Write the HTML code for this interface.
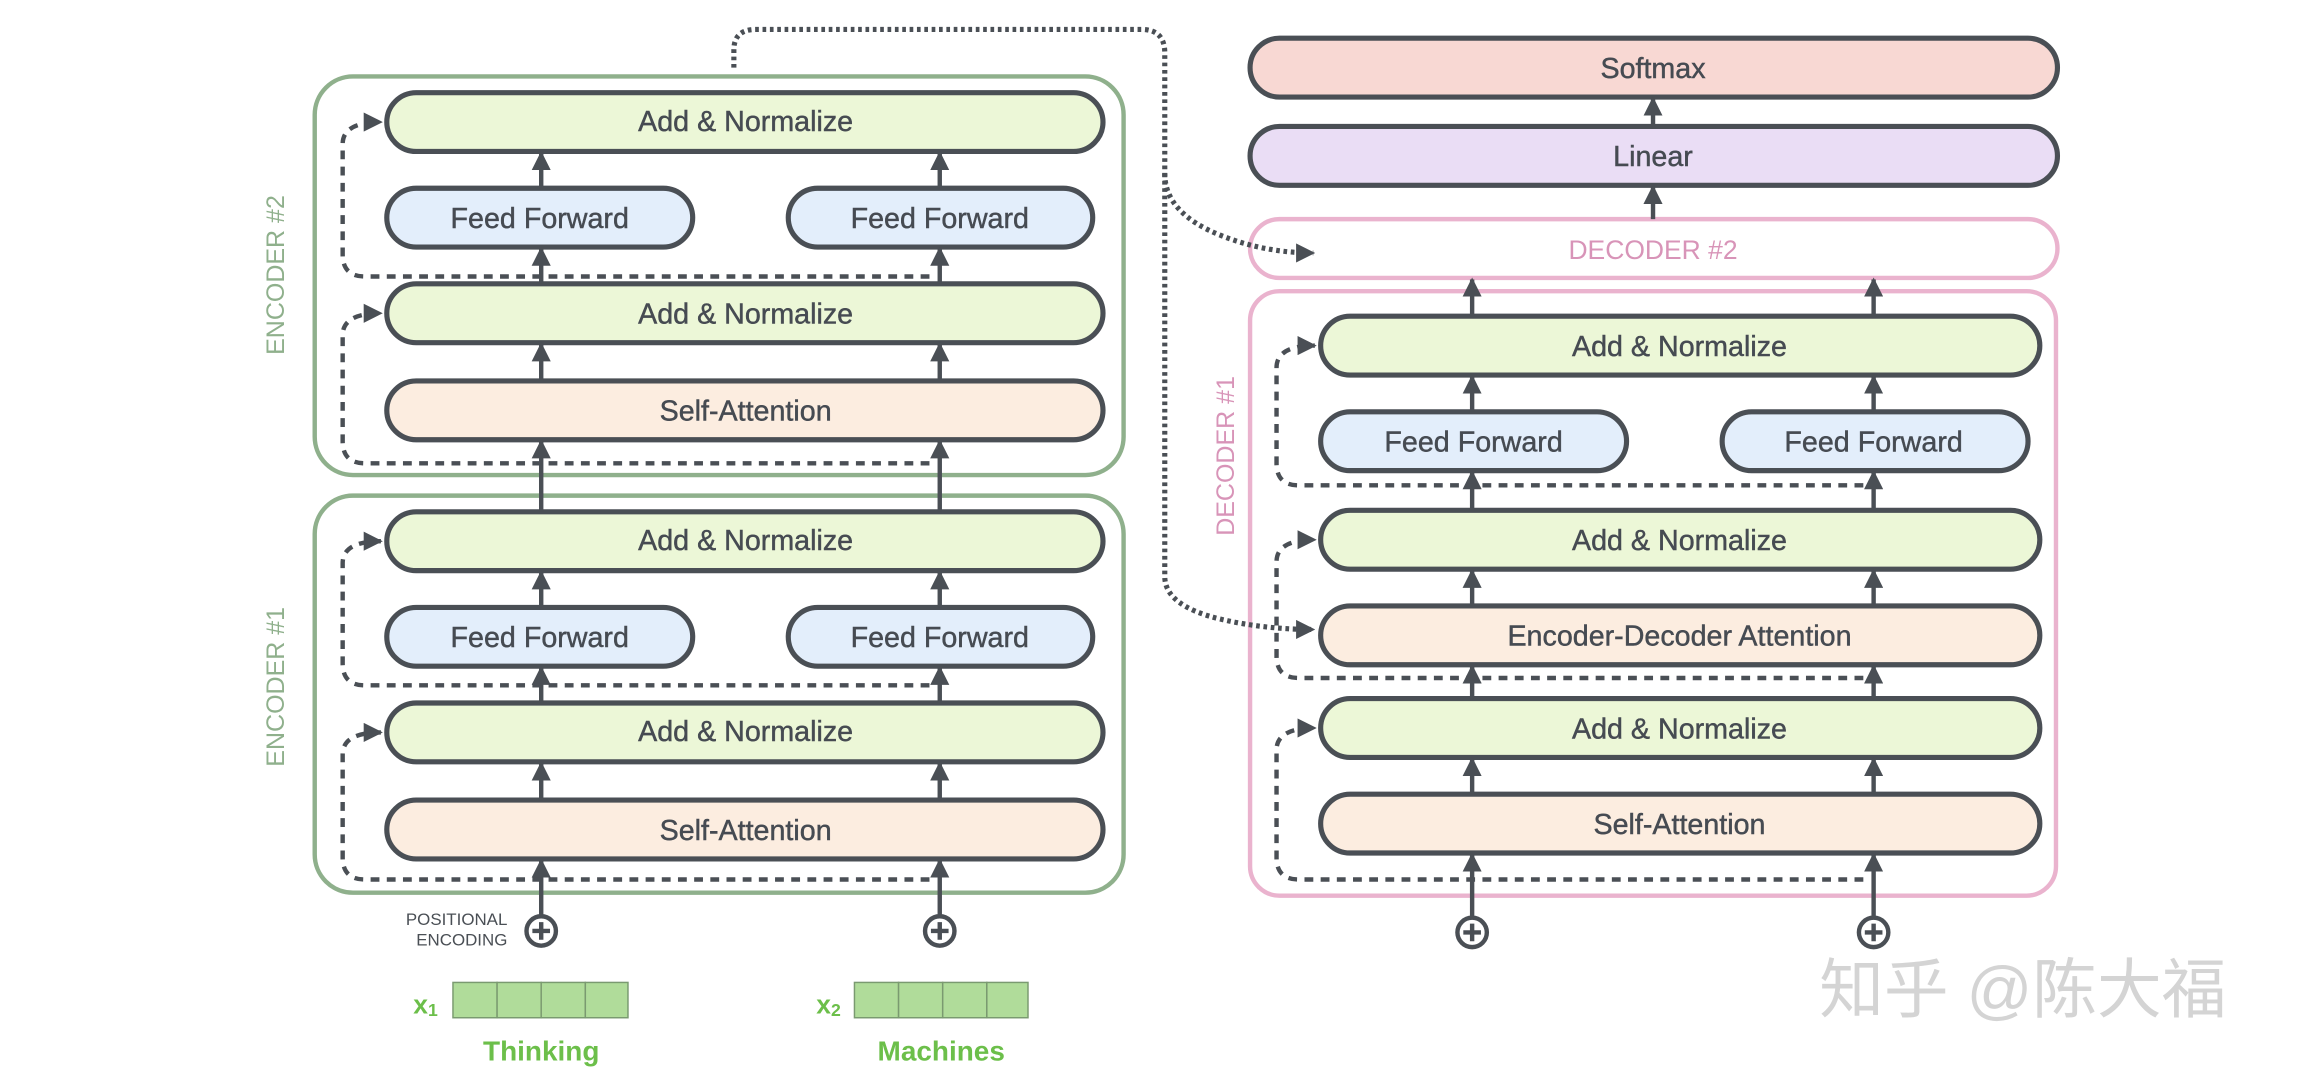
<!DOCTYPE html>
<html><head><meta charset="utf-8"><style>
html,body{margin:0;padding:0;background:#fff;width:2306px;height:1082px;overflow:hidden}
svg{display:block}
text{font-family:"Liberation Sans","Noto Sans CJK SC",sans-serif}
</style></head><body>
<svg width="2306" height="1082" viewBox="0 0 1568 735.7" preserveAspectRatio="none" xmlns="http://www.w3.org/2000/svg">
<defs>
<marker id="a" viewBox="0 0 10 10" refX="9" refY="5" markerWidth="13" markerHeight="13" markerUnits="userSpaceOnUse" orient="auto"><path d="M0,0L10,5L0,10z" fill="#4a4f55"/></marker>
</defs>
<rect width="1568" height="736" fill="#fff"/>
<g fill="none" stroke-width="3">
<rect x="214" y="52" width="550" height="271" rx="26" stroke="#8fb08c"/>
<rect x="214" y="337" width="550" height="270" rx="26" stroke="#8fb08c"/>
<rect x="850" y="149" width="549" height="40" rx="20" stroke="#eab3ce"/>
<rect x="850" y="198" width="548" height="411" rx="20" stroke="#eab3ce"/>
</g>
<g stroke="#4a4f55" stroke-width="3.5">
<rect x="263" y="63" width="487" height="40" rx="20" fill="#ecf7d7"/>
<rect x="263" y="128" width="208" height="40" rx="20" fill="#e3eefb"/>
<rect x="536" y="128" width="207" height="40" rx="20" fill="#e3eefb"/>
<rect x="263" y="193" width="487" height="40" rx="20" fill="#ecf7d7"/>
<rect x="263" y="259" width="487" height="40" rx="20" fill="#fcede0"/>
<rect x="263" y="348" width="487" height="40" rx="20" fill="#ecf7d7"/>
<rect x="263" y="413" width="208" height="40" rx="20" fill="#e3eefb"/>
<rect x="536" y="413" width="207" height="40" rx="20" fill="#e3eefb"/>
<rect x="263" y="478" width="487" height="40" rx="20" fill="#ecf7d7"/>
<rect x="263" y="544" width="487" height="40" rx="20" fill="#fcede0"/>
<rect x="850" y="26" width="549" height="40" rx="20" fill="#f8d8d3"/>
<rect x="850" y="86" width="549" height="40" rx="20" fill="#eaddf5"/>
<rect x="898" y="215" width="489" height="40" rx="20" fill="#ecf7d7"/>
<rect x="898" y="280" width="208" height="40" rx="20" fill="#e3eefb"/>
<rect x="1171" y="280" width="208" height="40" rx="20" fill="#e3eefb"/>
<rect x="898" y="347" width="489" height="40" rx="20" fill="#ecf7d7"/>
<rect x="898" y="412" width="489" height="40" rx="20" fill="#fcede0"/>
<rect x="898" y="475" width="489" height="40" rx="20" fill="#ecf7d7"/>
<rect x="898" y="540" width="489" height="40" rx="20" fill="#fcede0"/>
</g>
<g stroke="#4a4f55" stroke-width="3" marker-end="url(#a)">
<path d="M368 128V104"/><path d="M639 128V104"/>
<path d="M368 193V169"/><path d="M639 193V169"/>
<path d="M368 259V234"/><path d="M639 259V234"/>
<path d="M368 348V300"/><path d="M639 348V300"/>
<path d="M368 413V389"/><path d="M639 413V389"/>
<path d="M368 478V454"/><path d="M639 478V454"/>
<path d="M368 544V519"/><path d="M639 544V519"/>
<path d="M368 622V585"/><path d="M639 622V585"/>
<path d="M1124 86V67"/><path d="M1124 149V127"/>
<path d="M1001 215V190"/><path d="M1274 215V190"/>
<path d="M1001 280V256"/><path d="M1274 280V256"/>
<path d="M1001 347V321"/><path d="M1274 347V321"/>
<path d="M1001 412V388"/><path d="M1274 412V388"/>
<path d="M1001 475V453"/><path d="M1274 475V453"/>
<path d="M1001 540V516"/><path d="M1274 540V516"/>
<path d="M1001 623V581"/><path d="M1274 623V581"/>
</g>
<g stroke="#4a4f55" stroke-width="3" fill="none" stroke-dasharray="6 5" marker-end="url(#a)">
<path d="M632 188H248Q233 188 233 173V98Q233 83 259 83"/>
<path d="M632 315H248Q233 315 233 300V228Q233 213 259 213"/>
<path d="M632 466H248Q233 466 233 451V383Q233 368 259 368"/>
<path d="M632 598H248Q233 598 233 583V513Q233 498 259 498"/>
<path d="M1267 330H883Q868 330 868 315V250Q868 235 894 235"/>
<path d="M1267 461H883Q868 461 868 446V382Q868 367 894 367"/>
<path d="M1267 598H883Q868 598 868 583V510Q868 495 894 495"/>
</g>
<g stroke="#4a4f55" stroke-width="3.5" fill="none" stroke-dasharray="2.5 2.5" marker-end="url(#a)">
<path d="M499 46V34Q499 20 514 20H776Q792 20 792 36V118Q792 145 830 160Q860 172 893 172"/>
<path d="M792 118V392Q792 412 830 421Q860 428 893 428"/>
</g>
<g stroke="#4a4f55" stroke-width="3" fill="#fff">
<circle cx="368" cy="633" r="10"/><circle cx="639" cy="633" r="10"/>
<circle cx="1001" cy="634" r="10"/><circle cx="1274" cy="634" r="10"/>
</g>
<g stroke="#4a4f55" stroke-width="3">
<path d="M368 627V639M362 633H374"/><path d="M639 627V639M633 633H645"/>
<path d="M1001 628V640M995 634H1007"/><path d="M1274 628V640M1268 634H1280"/>
</g>
<g fill="#b0dc9a" stroke="#7a9a70" stroke-width="1">
<rect x="308" y="668" width="30" height="24"/><rect x="338" y="668" width="30" height="24"/><rect x="368" y="668" width="30" height="24"/><rect x="398" y="668" width="29" height="24"/>
<rect x="581" y="668" width="30" height="24"/><rect x="611" y="668" width="30" height="24"/><rect x="641" y="668" width="30" height="24"/><rect x="671" y="668" width="28" height="24"/>
</g>
<g fill="#464b52" font-size="19.5" text-anchor="middle" stroke="#464b52" stroke-width="0.3">
<text x="507" y="89">Add &amp; Normalize</text>
<text x="367" y="155">Feed Forward</text><text x="639" y="155">Feed Forward</text>
<text x="507" y="220">Add &amp; Normalize</text>
<text x="507" y="286">Self-Attention</text>
<text x="507" y="374">Add &amp; Normalize</text>
<text x="367" y="440">Feed Forward</text><text x="639" y="440">Feed Forward</text>
<text x="507" y="504">Add &amp; Normalize</text>
<text x="507" y="571">Self-Attention</text>
<text x="1124" y="53">Softmax</text>
<text x="1124" y="113">Linear</text>
<text x="1142" y="242">Add &amp; Normalize</text>
<text x="1002" y="307">Feed Forward</text><text x="1274" y="307">Feed Forward</text>
<text x="1142" y="374">Add &amp; Normalize</text>
<text x="1142" y="439">Encoder-Decoder Attention</text>
<text x="1142" y="502">Add &amp; Normalize</text>
<text x="1142" y="567">Self-Attention</text>
</g>
<text x="1124" y="176" fill="#d894b8" font-size="18" text-anchor="middle">DECODER #2</text>
<g font-size="17" fill="#8fb08c" text-anchor="middle">
<text transform="translate(193,187) rotate(-90)">ENCODER #2</text>
<text transform="translate(193,467) rotate(-90)">ENCODER #1</text>
</g>
<text transform="translate(839,310) rotate(-90)" font-size="17" fill="#d894b8" text-anchor="middle">DECODER #1</text>
<g font-size="11.5" fill="#4a4f55" text-anchor="end">
<text x="345" y="629">POSITIONAL</text><text x="345" y="643">ENCODING</text>
</g>
<g fill="#6cbf4a" font-weight="bold">
<text x="281" y="689" font-size="18">x<tspan font-size="12" dy="2">1</tspan></text>
<text x="555" y="689" font-size="18">x<tspan font-size="12" dy="2">2</tspan></text>
<text x="368" y="721" font-size="19" text-anchor="middle">Thinking</text>
<text x="640" y="721" font-size="19" text-anchor="middle">Machines</text>
</g>
<text x="1237" y="688" font-size="44" fill="#d4d4d4" font-family="'Noto Sans CJK SC',sans-serif">知乎 @陈大福</text>
</svg>
</body></html>
